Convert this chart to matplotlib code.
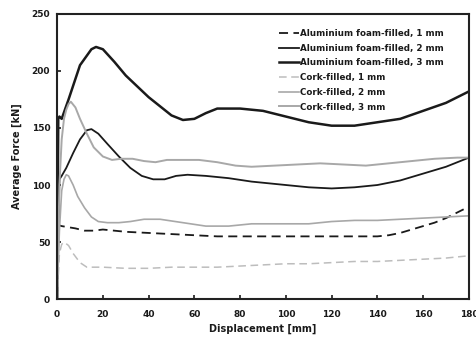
import matplotlib.pyplot as plt

# displacement [mm] / average force [kN]
al1_x = [0, 0.3, 2, 5, 8, 12, 16, 20, 25, 30, 40, 50, 60, 70, 80, 90, 100, 110, 120, 130, 140, 145, 150, 155, 160, 165, 170, 175, 180]
al1_y = [0, 65, 64, 63, 62, 60, 60, 61, 60, 59, 58, 57, 56, 55, 55, 55, 55, 55, 55, 55, 55, 56, 58, 61, 64, 67, 71, 76, 81]

al2_x = [0, 1, 2, 4, 7, 10, 13, 15, 18, 22, 27, 32, 37, 42, 47, 52, 57, 65, 75, 85, 100, 110, 120, 130, 140, 150, 160, 170, 180]
al2_y = [0, 105, 108, 115, 128, 140, 148, 149, 145, 136, 125, 115, 108, 105, 105, 108, 109, 108, 106, 103, 100, 98, 97, 98, 100, 104, 110, 116, 124]

al3_x = [0, 0.5, 1, 2, 5, 10, 15, 17, 20, 25, 30, 40, 50, 55, 60, 65, 70, 80, 90, 100, 110, 120, 130, 140, 150, 160, 170, 180]
al3_y = [0, 158, 160, 158, 175, 205, 219, 221, 219, 208, 196, 177, 161, 157, 158, 163, 167, 167, 165, 160, 155, 152, 152, 155, 158, 165, 172, 182]

ck1_x = [0, 1, 2, 3, 5, 7, 10, 13, 20, 30, 40, 50, 60, 70, 80, 90, 100, 110, 120, 130, 140, 150, 160, 170, 180]
ck1_y = [0, 40, 48, 50, 47, 40, 32, 28, 28, 27, 27, 28, 28, 28, 29, 30, 31, 31, 32, 33, 33, 34, 35, 36, 38]

ck2_x = [0, 1, 2, 3, 4, 5, 7, 9, 12, 15, 18, 22, 27, 32, 38, 45, 55, 65, 75, 85, 100, 110, 120, 130, 140, 150, 160, 170, 180]
ck2_y = [0, 60, 95, 105, 109, 108, 100, 90, 80, 72, 68, 67, 67, 68, 70, 70, 67, 64, 64, 66, 66, 66, 68, 69, 69, 70, 71, 72, 73]

ck3_x = [0, 1, 2, 3, 4, 5, 6, 8, 10, 13, 16, 20, 24, 28, 33, 38, 43, 48, 55, 62, 70, 78, 85, 95, 105, 115, 125, 135, 145, 155, 165, 175, 180]
ck3_y = [0, 100, 140, 158, 166, 171, 173, 168, 158, 145, 133, 125, 122, 123, 123, 121, 120, 122, 122, 122, 120, 117, 116, 117, 118, 119, 118, 117, 119, 121, 123, 124, 124]

labels = ['Aluminium foam-filled, 1 mm', 'Aluminium foam-filled, 2 mm', 'Aluminium foam-filled, 3 mm',
          'Cork-filled, 1 mm', 'Cork-filled, 2 mm', 'Cork-filled, 3 mm']

fig = plt.figure(figsize=(4.76, 3.38), dpi=100)
ax = fig.add_axes([0.12, 0.115, 0.865, 0.844])

dk = '#1a1a1a'
gr = '#a8a8a8'
ax.plot(al1_x, al1_y, color=dk, lw=1.3, ls=(0, (5, 3)), label=labels[0])
ax.plot(al2_x, al2_y, color=dk, lw=1.3, label=labels[1])
ax.plot(al3_x, al3_y, color=dk, lw=1.8, label=labels[2])
ax.plot(ck1_x, ck1_y, color='#bdbdbd', lw=1.1, ls=(0, (5, 3)), label=labels[3])
ax.plot(ck2_x, ck2_y, color=gr, lw=1.2, label=labels[4])
ax.plot(ck3_x, ck3_y, color=gr, lw=1.4, label=labels[5])

ax.set_xlim(0, 180)
ax.set_ylim(0, 250)
ax.set_xticks(range(0, 181, 20))
ax.set_yticks(range(0, 251, 50))
ax.tick_params(direction='in', length=3, width=1.2, labelsize=6.5, colors=dk)
ax.tick_params(axis='x', pad=8)
ax.tick_params(axis='y', pad=5)
for lb in ax.get_xticklabels() + ax.get_yticklabels():
    lb.set_fontweight('bold')
for s in ax.spines.values():
    s.set_linewidth(1.5)
    s.set_color('#222222')

ax.set_xlabel('Displacement [mm]', fontsize=7, fontweight='bold', labelpad=3, color=dk)
ax.set_ylabel('Average Force [kN]', fontsize=7, fontweight='bold', labelpad=7, color=dk)

leg = ax.legend(loc='upper right', bbox_to_anchor=(0.955, 0.968), frameon=False, fontsize=6.3,
                handlelength=2.2, handletextpad=0.2, labelspacing=0.65, borderaxespad=0.3)
for t in leg.get_texts():
    t.set_fontweight('bold')
    t.set_color(dk)

fig.savefig('out.png', dpi=100)
